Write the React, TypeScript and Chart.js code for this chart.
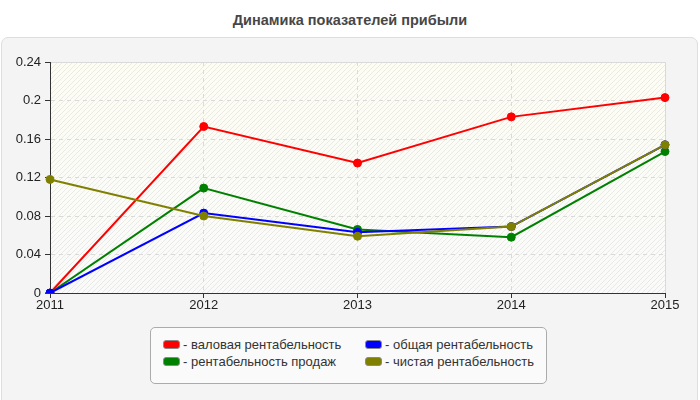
import React, { useEffect, useRef } from "react";
import { Chart, registerables } from "chart.js";

Chart.register(...registerables);

// Years on the horizontal axis
const years = ["2011", "2012", "2013", "2014", "2015"];

// Profitability indicators by year
const grossMargin = [0, 0.173, 0.135, 0.183, 0.203];
const totalMargin = [0, 0.083, 0.063, 0.069, 0.154];
const salesMargin = [0, 0.109, 0.066, 0.058, 0.147];
const netMargin = [0.118, 0.08, 0.059, 0.069, 0.154];

// Vertical axis tick values
const yTicks = [0, 0.04, 0.08, 0.12, 0.16, 0.2, 0.24];

const seriesLabels = [
  "валовая рентабельность",
  "общая рентабельность",
  "рентабельность продаж",
  "чистая рентабельность",
];
const seriesColors = ["#ff0000", "#0000ff", "#008000", "#808000"];
const seriesValues = [grossMargin, totalMargin, salesMargin, netMargin];
// Drawing order: lower value is painted on top
const seriesOrder = [3, 1, 2, 0];

const FONT = '"Liberation Sans", Arial, sans-serif';

// Light gradient with fine diagonal hatching behind the plot, plus a thin frame
const plotBackground = {
  id: "plotBackground",
  beforeDraw(chart: any) {
    const { ctx, chartArea } = chart;
    const { left, top, right, bottom } = chartArea;
    ctx.save();
    const grad = ctx.createLinearGradient(0, top, 0, bottom);
    grad.addColorStop(0, "#fdfdf4");
    grad.addColorStop(1, "#fafafa");
    ctx.fillStyle = grad;
    ctx.fillRect(left, top, right - left, bottom - top);

    const tile = document.createElement("canvas");
    tile.width = 5;
    tile.height = 5;
    const t = tile.getContext("2d")!;
    t.strokeStyle = "rgba(0,0,0,0.07)";
    t.lineWidth = 1;
    t.beginPath();
    t.moveTo(0, 5);
    t.lineTo(5, 0);
    t.moveTo(-1, 1);
    t.lineTo(1, -1);
    t.moveTo(4, 6);
    t.lineTo(6, 4);
    t.stroke();
    const pattern = ctx.createPattern(tile, "repeat");
    if (pattern) {
      ctx.fillStyle = pattern;
      ctx.fillRect(left, top, right - left, bottom - top);
    }

    ctx.strokeStyle = "#d9d9d9";
    ctx.lineWidth = 1;
    ctx.beginPath();
    ctx.moveTo(left, top + 0.5);
    ctx.lineTo(right + 0.5, top + 0.5);
    ctx.lineTo(right + 0.5, bottom);
    ctx.stroke();
    ctx.restore();
  },
};

function LegendItem({ label, color }: { label: string; color: string }) {
  return (
    <div style={{ display: "flex", alignItems: "center", height: 17 }}>
      <span
        style={{
          display: "inline-block",
          width: 15,
          height: 7,
          borderRadius: 3,
          border: "1px solid #8a8a8a",
          background: color,
          marginRight: 3,
        }}
      />
      <span>- {label}</span>
    </div>
  );
}

export default function App() {
  const canvasRef = useRef<HTMLCanvasElement | null>(null);

  useEffect(() => {
    if (!canvasRef.current) return;
    const chart = new Chart(canvasRef.current, {
      type: "line",
      data: {
        labels: years,
        datasets: seriesValues.map((values, i) => ({
          label: seriesLabels[i],
          data: values,
          borderColor: seriesColors[i],
          backgroundColor: seriesColors[i],
          pointBackgroundColor: seriesColors[i],
          pointBorderColor: seriesColors[i],
          pointRadius: 4,
          pointBorderWidth: 1,
          borderWidth: 2,
          tension: 0,
          fill: false,
          order: seriesOrder[i],
        })),
      },
      plugins: [plotBackground],
      options: {
        responsive: false,
        animation: false,
        layout: { padding: { left: 0, right: 35, top: 62, bottom: 0 } },
        plugins: {
          legend: { display: false },
          title: { display: false },
          tooltip: { enabled: false },
        },
        scales: {
          x: {
            offset: false,
            grid: {
              color: "#dadada",
              tickColor: "#333333",
              tickLength: 5,
              drawOnChartArea: true,
            },
            border: { display: true, color: "#333333", width: 1, dash: [4, 4] },
            ticks: {
              color: "#222222",
              font: { family: FONT, size: 13 },
              padding: 0,
              maxRotation: 0,
            },
            afterFit(scale: any) {
              scale.height = 107;
            },
          },
          y: {
            min: 0,
            max: 0.24,
            grid: {
              color: "#dadada",
              tickColor: "#333333",
              tickLength: 5,
            },
            border: { display: true, color: "#333333", width: 1, dash: [4, 4] },
            ticks: {
              color: "#222222",
              font: { family: FONT, size: 13 },
              padding: 4,
              callback: (v: any) => String(v),
            },
            afterBuildTicks(scale: any) {
              scale.ticks = yTicks.map((v) => ({ value: v }));
            },
            afterFit(scale: any) {
              scale.width = 50;
            },
          },
        },
      },
    });
    return () => chart.destroy();
  }, []);

  return (
    <div
      style={{
        position: "fixed",
        left: 0,
        top: 0,
        width: 700,
        height: 400,
        background: "#ffffff",
        fontFamily: FONT,
        overflow: "hidden",
      }}
    >
      <div
        style={{
          position: "absolute",
          left: 0,
          top: 11,
          width: 700,
          textAlign: "center",
          fontWeight: "bold",
          fontSize: 14.5,
          color: "#474747",
          lineHeight: "18px",
        }}
      >
        Динамика показателей прибыли
      </div>
      <div
        style={{
          position: "absolute",
          left: 1,
          top: 37,
          width: 697,
          height: 370,
          boxSizing: "border-box",
          border: "1px solid #dedede",
          borderRadius: 7,
          background: "#f4f4f4",
        }}
      />
      <canvas
        ref={canvasRef}
        width={700}
        height={400}
        style={{ position: "absolute", left: 0, top: 0, width: 700, height: 400 }}
      />
      <div
        style={{
          position: "absolute",
          left: 150,
          top: 327,
          width: 397,
          height: 57,
          boxSizing: "border-box",
          border: "1px solid #ababab",
          borderRadius: 5,
          background: "#fafafa",
          fontSize: 13,
          color: "#333333",
          lineHeight: "17px",
        }}
      >
        <div style={{ position: "absolute", left: 12, top: 8 }}>
          <LegendItem label={seriesLabels[0]} color={seriesColors[0]} />
          <LegendItem label={seriesLabels[2]} color={seriesColors[2]} />
        </div>
        <div style={{ position: "absolute", left: 214, top: 8 }}>
          <LegendItem label={seriesLabels[1]} color={seriesColors[1]} />
          <LegendItem label={seriesLabels[3]} color={seriesColors[3]} />
        </div>
      </div>
    </div>
  );
}
